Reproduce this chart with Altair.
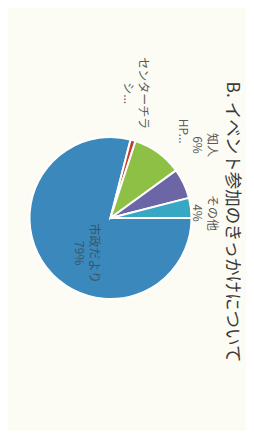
import math
import altair as alt
import pandas as pd

# ---- data ----
categories = ["市政だより", "センターチラシ...", "HP...", "知人", "その他"]
values = [79, 1, 10, 6, 4]
labels = ["市政だより\n79%", "センターチラ\nシ...", "HP...", "知人\n6%", "その他\n4%"]
colors = ["#3a88bc", "#c63b2e", "#8dc044", "#6c65a6", "#38a7c3"]

# ---- label layout (angle offset in degrees from slice middle, radius in px) ----
label_dtheta = {"市政だより": -27, "センターチラシ...": -1.6, "HP...": 3.8, "知人": -10.5, "その他": 4.4}
label_radius = {"市政だより": 39, "センターチラシ...": 129, "HP...": 113, "知人": 125, "その他": 102}

df = pd.DataFrame({"category": categories, "value": values, "label": labels})
df["order"] = range(len(df))
df["dtheta"] = df["category"].map(label_dtheta)
df["lr"] = df["category"].map(label_radius)

theta_scale = alt.Scale(domain=[0, 100], range=[math.pi / 2, math.pi / 2 + 2 * math.pi])
FONT = "Noto Sans CJK JP"

base = alt.Chart(df)

arcs = base.mark_arc(outerRadius=81, stroke="white", strokeWidth=2).encode(
    theta=alt.Theta("value:Q", stack=True, scale=theta_scale),
    color=alt.Color("category:N", scale=alt.Scale(domain=categories, range=colors), legend=None),
    order=alt.Order("order:Q"),
)

text = base.transform_window(
    cum="sum(value)", sort=[alt.SortField("order")]
).transform_calculate(
    lt="datum.cum - datum.value / 2 + datum.dtheta / 3.6"
).mark_text(
    angle=90, lineBreak="\n", font=FONT, fontSize=12, lineHeight=15,
    align="center", baseline="middle",
).encode(
    theta=alt.Theta("lt:Q", stack=None, scale=theta_scale),
    radius=alt.Radius("lr:Q", scale=None),
    text="label:N",
    color=alt.condition(alt.datum.category == "市政だより", alt.value("#3d5566"), alt.value("#5a5a5a")),
)

chart = alt.layer(arcs, text).properties(
    width=205,
    height=420,
    autosize=alt.AutoSizeParams(type="none"),
    padding={"left": 0, "top": 0, "right": 33, "bottom": 3},
    background="#fcfcf4",
    title=alt.TitleParams(
        "B. イベント参加のきっかけについて",
        orient="right", anchor="middle", font=FONT, fontSize=17.5,
        fontWeight="normal", color="#3a3a3a", offset=5, dx=4,
    ),
).configure_view(stroke=None)

chart.save("out.html", embed_options={"renderer": "svg", "actions": False})
